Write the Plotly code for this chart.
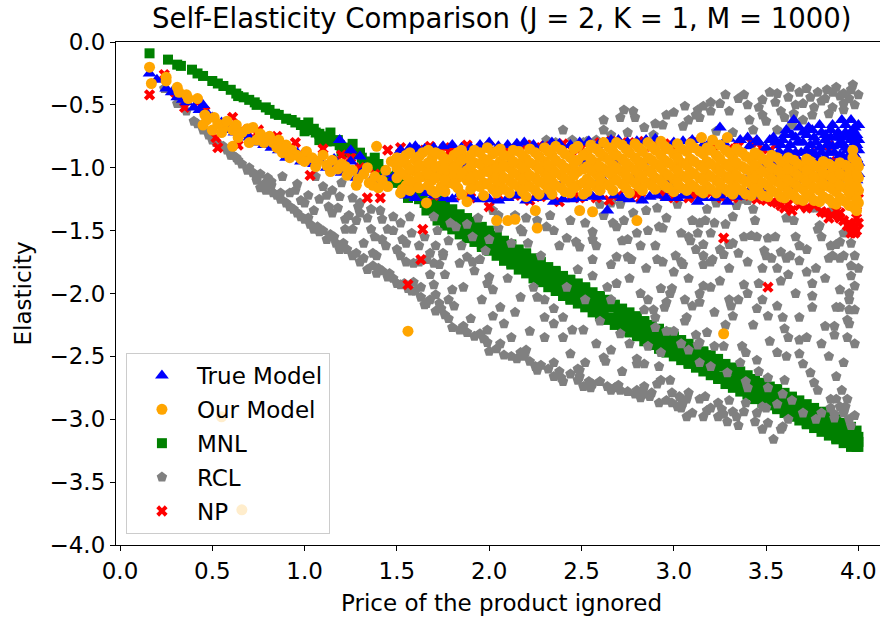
import plotly.graph_objects as go

# ---------------- data ----------------
mnl_pts = [
    (0.16, -0.09), (0.26, -0.14), (0.31, -0.18), (0.33, -0.19), (0.39, -0.22), (0.42, -0.25),
    (0.45, -0.27), (0.50, -0.31), (0.53, -0.33), (0.56, -0.35), (0.60, -0.38), (0.63, -0.41),
    (0.64, -0.43), (0.67, -0.44), (0.70, -0.46), (0.73, -0.48), (0.74, -0.50), (0.79, -0.52),
    (0.81, -0.54), (0.84, -0.57), (0.86, -0.58), (0.90, -0.61), (0.93, -0.62), (0.95, -0.64),
    (0.98, -0.66), (1.01, -0.68), (1.03, -0.70), (1.06, -0.72), (1.08, -0.73), (1.10, -0.75),
    (1.13, -0.77), (1.16, -0.79), (1.19, -0.82), (1.22, -0.84), (1.25, -0.86), (1.28, -0.89),
    (1.31, -0.92), (1.35, -0.95), (1.38, -0.98), (1.42, -1.02), (1.46, -1.07), (1.50, -1.12),
    (1.53, -1.16), (1.56, -1.19), (1.59, -1.22), (1.62, -1.25), (1.65, -1.28), (1.68, -1.31),
    (1.00, -0.71), (1.05, -0.69), (1.12, -0.79), (1.18, -0.78), (1.24, -0.88), (1.30, -0.88),
    (1.36, -0.99), (1.40, -0.97), (1.46, -1.10), (1.52, -1.12), (1.58, -1.17), (1.64, -1.24),
    (1.70, -1.29), (1.70, -1.36), (1.74, -1.33), (1.74, -1.39), (1.78, -1.36), (1.78, -1.43),
    (1.82, -1.40), (1.82, -1.46), (1.86, -1.43), (1.86, -1.50), (1.90, -1.46), (1.90, -1.53),
    (1.94, -1.50), (1.94, -1.57), (1.98, -1.53), (1.98, -1.60), (2.02, -1.57), (2.02, -1.64),
    (2.06, -1.61), (2.06, -1.68), (2.10, -1.64), (2.10, -1.71), (2.14, -1.68), (2.14, -1.75),
    (2.18, -1.71), (2.18, -1.78), (2.22, -1.75), (2.22, -1.82), (2.26, -1.78), (2.26, -1.85),
    (2.30, -1.82), (2.30, -1.89), (2.34, -1.85), (2.34, -1.92), (2.38, -1.89), (2.38, -1.95),
    (2.42, -1.92), (2.42, -1.99), (2.46, -1.95), (2.46, -2.02), (2.50, -1.98), (2.50, -2.05),
    (2.54, -2.02), (2.54, -2.09), (2.58, -2.05), (2.58, -2.12), (2.62, -2.08), (2.62, -2.15),
    (2.66, -2.11), (2.66, -2.19), (2.70, -2.15), (2.70, -2.22), (2.74, -2.18), (2.74, -2.25),
    (2.78, -2.21), (2.78, -2.28), (2.82, -2.24), (2.82, -2.31), (2.86, -2.28), (2.86, -2.35),
    (2.90, -2.31), (2.90, -2.38), (2.94, -2.34), (2.94, -2.41), (2.98, -2.37), (2.98, -2.44),
    (3.02, -2.40), (3.02, -2.47), (3.06, -2.43), (3.06, -2.50), (3.10, -2.46), (3.10, -2.53),
    (3.14, -2.49), (3.14, -2.56), (3.18, -2.52), (3.18, -2.59), (3.22, -2.55), (3.22, -2.62),
    (3.26, -2.58), (3.26, -2.66), (3.30, -2.61), (3.30, -2.69), (3.34, -2.65), (3.34, -2.72),
    (3.38, -2.68), (3.38, -2.75), (3.42, -2.71), (3.42, -2.78), (3.46, -2.74), (3.46, -2.81),
    (3.50, -2.77), (3.50, -2.83), (3.54, -2.79), (3.54, -2.86), (3.58, -2.82), (3.58, -2.89),
    (3.62, -2.85), (3.62, -2.92), (3.66, -2.88), (3.66, -2.95), (3.70, -2.91), (3.70, -2.98),
    (3.74, -2.94), (3.74, -3.01), (3.78, -2.97), (3.78, -3.04), (3.82, -3.00), (3.82, -3.07),
    (3.86, -3.03), (3.86, -3.10), (3.90, -3.06), (3.90, -3.13), (3.94, -3.09), (3.94, -3.16),
    (3.98, -3.12), (3.98, -3.19), (4.00, -3.14), (4.00, -3.18),
    (1.72, -1.28), (1.80, -1.46), (1.88, -1.41), (1.96, -1.61), (2.04, -1.55), (2.12, -1.76),
    (2.20, -1.69), (2.28, -1.90), (2.36, -1.83), (2.44, -2.04), (2.52, -1.96), (2.60, -2.17),
    (2.68, -2.09), (2.76, -2.30), (2.84, -2.22), (2.92, -2.43), (3.00, -2.35), (3.08, -2.55),
    (3.16, -2.47), (3.24, -2.67), (3.32, -2.59), (3.40, -2.80), (3.48, -2.72), (3.56, -2.91),
    (3.64, -2.83), (3.72, -3.03), (3.80, -2.95), (3.88, -3.15), (3.96, -3.07), (4.00, -3.22),
    # upper edge of the band
    (1.72, -1.26), (1.76, -1.30), (1.80, -1.33), (1.84, -1.37), (1.88, -1.40), (1.92, -1.43),
    (1.96, -1.47), (2.00, -1.50), (2.04, -1.54), (2.08, -1.58), (2.12, -1.61), (2.16, -1.65),
    (2.20, -1.68), (2.24, -1.72), (2.28, -1.75), (2.32, -1.79), (2.36, -1.82), (2.40, -1.86),
    (2.44, -1.89), (2.48, -1.92), (2.52, -1.95), (2.56, -1.99), (2.60, -2.02), (2.64, -2.05),
    (2.68, -2.09), (2.72, -2.12), (2.76, -2.15), (2.80, -2.18), (2.84, -2.22), (2.88, -2.25),
    (2.92, -2.28), (2.96, -2.31), (3.00, -2.34), (3.04, -2.37), (3.08, -2.40), (3.12, -2.43),
    (3.16, -2.46), (3.20, -2.49), (3.24, -2.52), (3.28, -2.56), (3.32, -2.59), (3.36, -2.62),
    (3.40, -2.65), (3.44, -2.68), (3.48, -2.71), (3.52, -2.74), (3.56, -2.76), (3.60, -2.79),
    (3.64, -2.82), (3.68, -2.85), (3.72, -2.88), (3.76, -2.91), (3.80, -2.94), (3.84, -2.97),
    (3.88, -3.00), (3.92, -3.03), (3.96, -3.06), (3.99, -3.09),
    # lower edge of the band
    (1.72, -1.42), (1.76, -1.46), (1.80, -1.49), (1.84, -1.53), (1.88, -1.56), (1.92, -1.59),
    (1.96, -1.63), (2.00, -1.66), (2.04, -1.70), (2.08, -1.74), (2.12, -1.77), (2.16, -1.81),
    (2.20, -1.84), (2.24, -1.88), (2.28, -1.91), (2.32, -1.95), (2.36, -1.98), (2.40, -2.02),
    (2.44, -2.05), (2.48, -2.08), (2.52, -2.11), (2.56, -2.15), (2.60, -2.18), (2.64, -2.21),
    (2.68, -2.25), (2.72, -2.28), (2.76, -2.31), (2.80, -2.34), (2.84, -2.38), (2.88, -2.41),
    (2.92, -2.44), (2.96, -2.47), (3.00, -2.50), (3.04, -2.53), (3.08, -2.56), (3.12, -2.59),
    (3.16, -2.62), (3.20, -2.65), (3.24, -2.68), (3.28, -2.72), (3.32, -2.75), (3.36, -2.78),
    (3.40, -2.81), (3.44, -2.84), (3.48, -2.87), (3.52, -2.89), (3.56, -2.92), (3.60, -2.95),
    (3.64, -2.98), (3.68, -3.01), (3.72, -3.04), (3.76, -3.07), (3.80, -3.10), (3.84, -3.13),
    (3.88, -3.16), (3.92, -3.19), (3.96, -3.22), (3.99, -3.22),
    (1.02, -0.64), (1.14, -0.72), (1.26, -0.81), (1.38, -0.92), (1.50, -1.06), (1.62, -1.19),
    (1.08, -0.78), (1.20, -0.87), (1.32, -0.97), (1.44, -1.08), (1.56, -1.24), (1.66, -1.34),
]

rcl_pts = [
    (0.24, -0.37), (0.31, -0.49), (0.34, -0.49), (0.36, -0.55), (0.40, -0.63), (0.42, -0.65),
    (0.45, -0.70), (0.50, -0.78), (0.55, -0.83), (0.56, -0.83), (0.60, -0.90), (0.61, -0.90),
    (0.63, -0.92), (0.66, -0.97), (0.69, -1.02), (0.72, -1.04), (0.74, -1.08), (0.74, -1.10),
    (0.76, -1.16), (0.78, -1.13), (0.79, -1.18), (0.80, -1.08), (0.82, -1.11), (0.83, -1.20),
    (0.87, -1.25), (0.87, -1.20), (0.88, -1.07), (0.90, -1.28), (0.92, -1.31), (0.92, -1.20),
    (0.96, -1.36), (0.96, -1.13), (0.98, -1.39), (0.98, -1.26), (1.00, -1.41), (1.00, -1.28),
    (1.03, -1.45), (1.05, -1.49), (1.05, -1.34), (1.06, -1.07), (1.08, -1.51), (1.10, -1.50),
    (1.10, -1.15), (1.12, -1.57), (1.13, -1.31), (1.14, -1.53), (1.15, -1.18), (1.15, -1.36),
    (1.17, -1.60), (1.19, -1.65), (1.19, -1.23), (1.20, -1.12), (1.22, -1.41), (1.22, -1.49),
    (1.23, -1.65), (1.26, -1.70), (1.26, -1.24), (1.26, -1.49), (1.29, -1.31), (1.30, -1.75),
    (1.30, -1.28), (1.30, -1.36), (1.32, -1.60), (1.34, -1.81), (1.36, -1.33), (1.36, -1.49),
    (1.37, -1.78), (1.37, -1.68), (1.39, -1.84), (1.39, -1.70), (1.41, -1.34), (1.42, -1.41),
    (1.42, -1.57), (1.42, -1.82), (1.45, -1.87), (1.45, -1.49), (1.46, -1.84), (1.48, -1.39),
    (1.50, -1.92), (1.52, -1.93), (1.52, -1.44), (1.52, -1.70), (1.53, -1.57), (1.55, -1.60),
    (1.56, -1.96), (1.57, -1.39), (1.59, -1.76), (1.59, -1.91), (1.60, -1.98), (1.62, -1.75),
    (1.63, -2.03), (1.63, -1.95), (1.65, -2.09), (1.66, -2.08), (1.66, -1.73), (1.70, -1.39),
    (1.70, -1.76), (1.70, -1.93), (1.71, -2.14), (1.71, -2.01), (1.71, -1.62), (1.73, -1.77),
    (1.73, -2.08), (1.75, -1.68), (1.75, -1.70), (1.76, -2.17), (1.79, -1.44), (1.80, -2.27),
    (1.80, -1.97), (1.81, -2.10), (1.82, -1.47), (1.84, -1.76), (1.84, -2.29), (1.88, -2.31),
    (1.88, -1.71), (1.91, -1.55), (1.91, -1.75), (1.95, -2.32), (1.95, -1.73), (1.99, -2.39),
    (1.99, -1.92), (1.99, -2.29), (2.00, -2.46), (2.00, -1.57), (2.00, -1.87), (2.02, -1.34),
    (2.05, -1.38), (2.06, -2.40), (2.06, -2.11), (2.08, -2.49), (2.08, -2.24), (2.14, -1.38),
    (2.15, -2.52), (2.17, -2.47), (2.17, -2.03), (2.17, -1.49), (2.18, -1.51), (2.20, -2.45),
    (2.21, -1.60), (2.22, -2.54), (2.26, -2.03), (2.26, -1.42), (2.26, -2.61), (2.28, -2.57),
    (2.30, -2.19), (2.31, -1.47), (2.31, -0.78), (2.35, -2.55), (2.35, -2.66), (2.35, -1.50),
    (2.35, -2.12), (2.35, -2.24), (2.39, -2.67), (2.40, -2.70), (2.40, -2.19), (2.40, -0.70),
    (2.42, -1.56), (2.45, -2.29), (2.47, -1.59), (2.48, -1.81), (2.48, -2.69), (2.48, -2.60),
    (2.49, -1.63), (2.49, -2.61), (2.49, -2.66), (2.51, -2.29), (2.51, -2.74), (2.51, -0.80),
    (2.53, -0.79), (2.55, -2.75), (2.56, -1.51), (2.56, -1.57), (2.56, -1.73), (2.56, -1.86),
    (2.56, -2.72), (2.60, -1.29), (2.62, -2.51), (2.63, -2.54), (2.64, -2.74), (2.64, -1.95),
    (2.66, -1.77), (2.66, -1.28), (2.66, -2.77), (2.66, -0.74), (2.67, -1.44), (2.69, -1.47),
    (2.69, -1.71), (2.69, -1.92), (2.70, -2.73), (2.71, -2.77), (2.71, -2.32), (2.71, -1.29),
    (2.71, -0.60), (2.73, -1.42), (2.73, -0.54), (2.75, -1.71), (2.75, -1.57), (2.77, -1.73),
    (2.79, -0.60), (2.79, -2.80), (2.80, -1.52), (2.80, -2.52), (2.80, -2.56), (2.80, -2.77),
    (2.82, -1.62), (2.82, -2.00), (2.82, -2.83), (2.84, -2.56), (2.84, -2.13), (2.84, -2.74),
    (2.85, -1.34), (2.86, -2.05), (2.87, -2.82), (2.88, -2.79), (2.89, -2.13), (2.89, -0.74),
    (2.90, -2.19), (2.90, -2.27), (2.91, -1.32), (2.91, -1.73), (2.91, -2.72), (2.92, -1.47),
    (2.92, -2.87), (2.93, -1.18), (2.93, -1.96), (2.93, -2.47), (2.93, -2.69), (2.94, -1.48),
    (2.94, -1.75), (2.94, -0.66), (2.95, -2.11), (2.96, -0.58), (2.96, -2.07), (2.98, -2.69),
    (2.99, -1.96), (2.99, -2.79), (2.99, -2.87), (3.00, -1.14), (3.00, -1.83), (3.00, -2.30),
    (3.01, -1.70), (3.02, -1.29), (3.03, -2.82), (3.04, -1.75), (3.04, -2.91), (3.05, -1.77),
    (3.05, -2.87), (3.05, -0.67), (3.06, -2.22), (3.06, -0.51), (3.07, -2.19), (3.07, -2.84),
    (3.07, -2.98), (3.08, -1.55), (3.08, -1.88), (3.08, -2.45), (3.08, -2.79), (3.09, -1.58),
    (3.10, -1.42), (3.12, -2.33), (3.13, -1.52), (3.13, -2.41), (3.13, -0.54), (3.14, -2.07),
    (3.14, -2.39), (3.14, -2.55), (3.14, -2.84), (3.14, -2.00), (3.14, -1.44), (3.14, -0.60),
    (3.16, -1.61), (3.16, -1.70), (3.16, -1.77), (3.16, -1.94), (3.16, -2.98), (3.16, -0.51),
    (3.17, -1.42), (3.17, -2.82), (3.18, -1.33), (3.18, -2.31), (3.18, -2.93), (3.20, -2.58),
    (3.20, -1.75), (3.20, -2.91), (3.20, -0.55), (3.21, -1.73), (3.22, -1.44), (3.22, -2.42),
    (3.23, -1.28), (3.23, -0.71), (3.24, -2.87), (3.24, -2.98), (3.25, -1.65), (3.25, -1.90),
    (3.25, -0.49), (3.27, -1.69), (3.27, -2.42), (3.27, -2.96), (3.29, -2.63), (3.29, -3.02),
    (3.30, -1.61), (3.30, -2.05), (3.30, -2.85), (3.31, -2.10), (3.32, -1.39), (3.32, -1.60),
    (3.32, -2.18), (3.32, -2.94), (3.32, -0.72), (3.34, -1.30), (3.35, -2.05), (3.35, -3.05),
    (3.37, -1.25), (3.37, -2.42), (3.38, -1.55), (3.38, -1.93), (3.38, -2.94), (3.38, -0.42),
    (3.39, -2.47), (3.39, -2.70), (3.39, -2.87), (3.40, -1.26), (3.40, -2.00), (3.40, -2.75),
    (3.41, -0.62), (3.42, -1.54), (3.43, -1.33), (3.43, -2.25), (3.43, -0.70), (3.45, -1.55),
    (3.45, -2.53), (3.45, -2.95), (3.48, -2.05), (3.48, -2.90), (3.48, -0.46), (3.49, -1.66),
    (3.50, -1.70), (3.50, -2.91), (3.50, -0.63), (3.51, -1.56), (3.51, -2.18), (3.51, -2.67),
    (3.51, -2.75), (3.51, -3.03), (3.53, -1.72), (3.54, -3.16), (3.56, -2.47), (3.56, -2.88),
    (3.56, -0.41), (3.56, -0.70), (3.58, -1.67), (3.58, -3.08), (3.59, -2.19), (3.59, -2.80),
    (3.59, -3.06), (3.60, -2.69), (3.61, -1.40), (3.61, -1.72), (3.61, -2.50), (3.62, -1.85),
    (3.62, -2.35), (3.63, -1.70), (3.63, -0.36), (3.64, -2.85), (3.65, -1.42), (3.65, -0.57),
    (3.68, -1.62), (3.68, -1.74), (3.68, -2.19), (3.68, -2.37), (3.68, -2.48), (3.70, -2.56),
    (3.70, -0.49), (3.72, -1.83), (3.72, -0.37), (3.74, -1.32), (3.74, -2.63), (3.75, -2.02),
    (3.75, -2.11), (3.75, -0.58), (3.76, -2.71), (3.77, -1.32), (3.77, -1.80), (3.77, -3.00),
    (3.78, -1.49), (3.78, -2.77), (3.79, -1.46), (3.80, -0.47), (3.82, -1.88), (3.82, -2.26),
    (3.83, -0.38), (3.84, -1.72), (3.84, -0.57), (3.85, -1.35), (3.85, -2.84), (3.85, -2.91),
    (3.86, -1.70), (3.87, -2.26), (3.87, -2.33), (3.87, -2.96), (3.87, -2.99), (3.88, -1.61),
    (3.88, -2.11), (3.88, -2.66), (3.88, -2.84), (3.90, -1.59), (3.90, -1.72), (3.90, -1.97),
    (3.90, -2.11), (3.90, -2.90), (3.90, -0.43), (3.91, -2.77), (3.92, -1.70), (3.92, -0.49),
    (3.92, -0.41), (3.93, -2.90), (3.94, -2.21), (3.94, -2.35), (3.94, -2.84), (3.95, -2.00),
    (3.95, -2.05), (3.95, -2.13), (3.95, -2.24), (3.95, -3.00), (3.96, -1.86), (3.97, -0.34),
    (3.98, -1.94), (3.98, -2.13), (3.98, -2.97),
    (3.55, -0.48), (3.58, -0.55), (3.62, -0.44), (3.66, -0.50), (3.68, -0.40), (3.74, -0.44),
    (3.76, -0.52), (3.78, -0.40), (3.82, -0.45), (3.86, -0.40), (3.86, -0.52), (3.88, -0.36),
    (3.92, -0.54), (3.95, -0.45), (3.96, -0.38), (3.98, -0.50), (4.00, -0.42), (3.46, -0.52),
    (3.52, -0.40), (3.40, -0.50), (3.35, -0.45), (3.30, -0.55), (3.28, -0.42), (3.20, -0.48),
    (3.12, -0.58), (3.08, -0.62), (3.00, -0.56), (2.90, -0.65), (2.84, -0.68), (2.78, -0.55),
    (2.75, -0.72), (2.62, -0.70), (2.58, -0.78), (2.45, -0.78), (2.36, -0.80), (2.22, -0.82),
    (2.62, -0.62), (3.48, -0.58), (3.60, -0.60), (3.70, -0.62), (3.64, -0.66),
    (2.05, -1.48), (2.12, -1.60), (2.20, -1.40), (2.28, -1.70), (2.33, -1.38), (2.38, -1.62),
    (2.44, -1.42), (2.52, -1.44), (2.58, -1.62), (2.62, -1.38), (2.72, -1.58), (2.78, -1.36),
    (2.86, -1.50), (2.90, -1.62), (2.96, -1.40), (3.04, -1.52), (3.12, -1.65), (3.20, -1.52),
    (3.28, -1.45), (3.35, -1.68), (3.44, -1.42), (3.48, -1.80), (3.55, -1.55), (3.58, -1.90),
    (3.66, -1.55), (3.72, -1.65), (3.80, -1.55), (3.85, -1.62), (3.92, -1.52), (3.96, -1.60),
    (3.98, -1.70), (4.00, -1.80), (3.96, -1.78), (3.75, -1.92), (3.66, -2.00), (3.56, -2.10),
    (3.45, -2.12), (3.60, -2.28), (3.80, -2.40), (3.98, -2.40), (3.92, -2.55), (3.84, -2.50),
    (3.72, -2.35), (3.52, -2.38), (3.46, -2.62), (3.36, -2.55), (3.28, -2.25), (3.22, -2.15),
    (3.10, -2.10), (3.04, -2.40), (2.96, -2.30), (2.92, -2.58), (2.86, -2.42), (2.76, -2.40),
    (2.72, -2.62), (2.66, -2.45), (2.58, -2.40), (2.52, -2.55), (2.44, -2.48), (2.40, -2.35),
    (2.30, -2.35), (2.22, -2.30), (2.12, -2.35), (2.02, -2.18), (1.96, -2.05), (1.90, -2.20),
    (1.86, -1.95), (1.78, -2.05), (1.76, -1.85), (1.68, -1.85), (1.92, -1.82), (2.02, -1.97),
    (2.10, -1.88), (2.14, -2.15), (2.24, -1.95), (2.30, -2.05), (2.42, -1.95), (2.52, -2.05),
    (2.60, -2.22), (2.66, -2.05), (2.76, -1.88), (2.85, -1.80), (2.98, -2.00), (3.06, -2.05),
    (3.20, -1.95), (3.30, -1.80), (3.40, -1.75), (3.46, -1.92), (3.56, -1.80),
    (0.48, -0.74), (0.52, -0.80), (0.58, -0.86), (0.64, -0.94), (0.70, -1.00), (0.76, -1.05),
    (0.82, -1.14), (0.85, -1.22), (0.94, -1.33), (1.02, -1.40), (1.07, -1.47), (1.16, -1.55),
    (1.21, -1.60), (1.28, -1.68), (1.32, -1.72), (1.40, -1.80), (1.48, -1.88), (1.54, -1.92),
    (1.58, -1.98), (1.68, -2.05), (1.74, -2.12), (1.78, -2.20), (1.86, -2.26), (1.92, -2.34),
    (1.97, -2.36), (2.04, -2.44), (2.12, -2.50), (2.19, -2.50), (2.25, -2.58), (2.32, -2.60),
    (2.38, -2.62), (2.44, -2.64), (2.54, -2.70), (2.60, -2.70), (2.68, -2.75), (2.75, -2.78),
    (2.84, -2.80), (2.96, -2.85), (3.02, -2.90), (3.10, -2.95), (3.26, -2.92), (3.34, -2.98),
    (3.44, -3.02), (3.48, -3.08), (3.62, -3.00), (3.70, -2.95), (3.80, -2.95), (3.92, -2.95),
    (3.96, -3.05),
    (0.95, -1.18), (1.02, -1.22), (1.08, -1.25), (1.12, -1.22), (1.18, -1.32), (1.24, -1.38),
    (1.28, -1.42), (1.34, -1.40), (1.38, -1.55), (1.44, -1.62), (1.48, -1.50), (1.50, -1.65),
    (1.55, -1.75), (1.58, -1.52), (1.62, -1.62), (1.65, -1.55), (1.68, -1.68), (1.72, -1.50),
    (1.78, -1.58), (1.85, -1.62), (1.88, -1.45), (1.94, -1.40), (1.98, -1.66),
]

ours_pts = [
    (0.16, -0.20), (0.17, -0.33), (0.25, -0.28), (0.25, -0.31), (0.31, -0.36), (0.32, -0.40),
    (0.36, -0.42), (0.37, -0.45), (0.42, -0.45), (0.45, -0.66), (0.46, -0.58), (0.50, -0.70),
    (0.51, -0.60), (0.53, -0.65), (0.56, -0.68), (0.58, -0.63), (0.61, -0.70), (0.61, -0.83),
    (0.63, -0.66), (0.66, -0.72), (0.69, -0.69), (0.72, -0.68), (0.74, -0.78), (0.76, -0.73),
    (0.80, -0.76), (0.81, -0.75), (0.83, -0.80), (0.85, -0.84), (0.88, -0.88), (0.90, -0.82),
    (0.93, -0.86), (0.96, -0.90), (0.98, -0.93), (1.01, -0.87), (1.04, -0.92), (1.07, -0.95),
    (1.10, -0.90), (1.12, -0.98), (1.15, -0.94), (1.18, -1.01), (1.20, -0.97), (1.23, -1.06),
    (1.26, -1.02), (1.29, -1.09), (1.32, -1.05), (1.35, -1.12), (1.37, -1.14), (1.38, -1.07),
    (1.39, -0.83), (1.42, -1.10), (1.45, -1.15), (1.47, -0.95), (1.52, -1.20), (1.53, -1.17),
    (0.47, -0.62), (0.55, -0.72), (0.64, -0.76), (0.70, -0.80), (0.78, -0.80), (0.86, -0.78),
    (0.92, -0.92), (1.00, -0.95), (1.06, -0.99), (1.14, -1.03), (1.22, -0.99), (1.28, -1.14),
    (1.34, -1.00), (1.40, -1.16), (1.44, -1.02),
    (1.50, -0.92), (1.50, -1.00), (1.50, -1.08), (1.55, -0.90), (1.55, -0.97), (1.55, -1.06),
    (1.55, -1.14), (1.60, -0.94), (1.60, -1.03), (1.60, -1.12), (1.64, -0.88), (1.64, -0.99),
    (1.64, -1.07), (1.66, -1.28), (1.69, -0.93), (1.69, -1.01), (1.69, -1.10), (1.69, -1.18),
    (1.74, -0.90), (1.74, -0.98), (1.74, -1.05), (1.74, -1.15), (1.78, -0.95), (1.78, -1.04),
    (1.78, -1.12), (1.83, -0.88), (1.83, -0.97), (1.83, -1.08), (1.83, -1.16), (1.88, -0.92),
    (1.88, -1.02), (1.88, -1.10), (1.88, -1.27), (1.92, -0.86), (1.92, -0.96), (1.92, -1.05),
    (1.92, -1.13), (1.97, -0.93), (1.97, -1.01), (1.97, -1.12), (1.97, -1.22), (2.02, -0.89),
    (2.02, -0.98), (2.02, -1.07), (2.02, -1.17), (2.04, -1.42), (2.06, -0.85), (2.06, -0.95),
    (2.06, -1.04), (2.06, -1.14), (2.10, -1.42), (2.11, -0.91), (2.11, -1.00), (2.11, -1.10),
    (2.11, -1.20), (2.14, -1.41), (2.16, -0.87), (2.16, -0.97), (2.16, -1.06), (2.16, -1.15),
    (2.20, -0.93), (2.20, -1.03), (2.20, -1.12), (2.20, -1.23), (2.25, -0.88), (2.25, -0.98),
    (2.25, -1.08), (2.25, -1.18), (2.25, -1.34), (2.26, -1.48), (2.30, -0.84), (2.30, -0.95),
    (2.30, -1.04), (2.30, -1.13), (2.34, -0.90), (2.34, -1.01), (2.34, -1.11), (2.34, -1.21),
    (2.39, -0.86), (2.39, -0.97), (2.39, -1.06), (2.39, -1.16), (2.44, -0.92), (2.44, -1.02),
    (2.44, -1.12), (2.44, -1.20), (2.48, -0.83), (2.48, -0.94), (2.48, -1.03), (2.48, -1.14),
    (2.49, -1.34), (2.53, -0.88), (2.53, -0.99), (2.53, -1.09), (2.53, -1.19), (2.56, -1.35),
    (2.58, -0.85), (2.58, -0.96), (2.58, -1.05), (2.58, -1.15), (2.62, -0.80), (2.62, -0.91),
    (2.62, -1.01), (2.62, -1.12), (2.67, -0.87), (2.67, -0.98), (2.67, -1.07), (2.67, -1.18),
    (2.72, -0.82), (2.72, -0.93), (2.72, -1.03), (2.72, -1.13), (2.76, -0.88), (2.76, -0.99),
    (2.76, -1.09), (2.76, -1.20), (2.80, -1.42), (2.81, -0.84), (2.81, -0.95), (2.81, -1.05),
    (2.81, -1.15), (2.86, -0.80), (2.86, -0.92), (2.86, -1.02), (2.86, -1.12), (2.90, -0.86),
    (2.90, -0.97), (2.90, -1.08), (2.90, -1.17), (2.95, -0.83), (2.95, -0.94), (2.95, -1.04),
    (2.95, -1.14), (3.00, -0.89), (3.00, -0.99), (3.00, -1.09), (3.00, -1.19), (3.04, -0.85),
    (3.04, -0.96), (3.04, -1.06), (3.04, -1.16), (3.09, -0.81), (3.09, -0.93), (3.09, -1.03),
    (3.09, -1.13), (3.14, -0.87), (3.14, -0.98), (3.14, -1.08), (3.14, -1.18), (3.15, -0.76),
    (3.18, -0.84), (3.18, -0.95), (3.18, -1.05), (3.18, -1.15), (3.21, -0.78), (3.23, -0.90),
    (3.23, -1.00), (3.23, -1.10), (3.23, -1.20), (3.27, -2.32), (3.28, -0.86), (3.28, -0.97),
    (3.28, -1.07), (3.28, -1.17), (3.29, -0.76), (3.32, -0.92), (3.32, -1.02), (3.32, -1.12),
    (3.32, -1.21), (3.37, -0.88), (3.37, -0.99), (3.37, -1.09), (3.37, -1.18), (3.42, -0.94),
    (3.42, -1.04), (3.42, -1.13), (3.42, -1.22), (3.46, -0.90), (3.46, -1.01), (3.46, -1.10),
    (3.46, -1.19), (3.51, -0.96), (3.51, -1.05), (3.51, -1.14), (3.51, -1.23), (3.56, -0.92),
    (3.56, -1.02), (3.56, -1.11), (3.56, -1.20), (3.60, -0.97), (3.60, -1.06), (3.60, -1.15),
    (3.60, -1.24), (3.65, -0.94), (3.65, -1.03), (3.65, -1.12), (3.65, -1.22), (3.70, -0.99),
    (3.70, -1.08), (3.70, -1.17), (3.70, -1.26), (3.74, -0.95), (3.74, -1.04), (3.74, -1.13),
    (3.74, -1.23), (3.79, -1.00), (3.79, -1.09), (3.79, -1.18), (3.79, -1.27), (3.84, -0.97),
    (3.84, -1.06), (3.84, -1.15), (3.84, -1.25), (3.88, -1.01), (3.88, -1.10), (3.88, -1.19),
    (3.88, -1.29), (3.93, -0.98), (3.93, -1.07), (3.93, -1.16), (3.93, -1.27), (3.97, -0.86),
    (3.97, -0.92), (3.97, -1.03), (3.97, -1.13), (3.97, -1.22), (3.97, -1.31), (4.00, -0.99),
    (4.00, -1.08), (4.00, -1.18), (4.00, -1.28), (1.56, -2.30), (0.55, -2.98), (0.66, -3.72),
    (1.52, -0.95), (1.52, -1.04), (1.57, -0.88), (1.57, -1.01), (1.57, -1.10), (1.57, -1.18),
    (1.62, -0.91), (1.62, -0.98), (1.62, -1.08), (1.62, -1.16), (1.67, -0.86), (1.67, -0.96),
    (1.67, -1.05), (1.67, -1.14), (1.71, -0.88), (1.71, -0.99), (1.71, -1.08), (1.71, -1.20),
    (1.76, -0.93), (1.76, -1.01), (1.76, -1.10), (1.76, -1.19), (1.81, -0.90), (1.81, -1.00),
    (1.81, -1.06), (1.81, -1.13), (1.85, -0.86), (1.85, -0.94), (1.85, -1.04), (1.85, -1.21),
    (1.90, -0.90), (1.90, -0.99), (1.90, -1.08), (1.90, -1.17), (1.95, -0.88), (1.95, -0.97),
    (1.95, -1.06), (1.95, -1.15), (1.99, -0.84), (1.99, -0.94), (1.99, -1.03), (1.99, -1.13),
    (2.04, -0.87), (2.04, -1.00), (2.04, -1.10), (2.04, -1.20), (2.08, -0.90), (2.08, -0.98),
    (2.08, -1.08), (2.08, -1.17), (2.13, -0.86), (2.13, -0.95), (2.13, -1.04), (2.13, -1.13),
    (2.18, -0.90), (2.18, -1.00), (2.18, -1.09), (2.18, -1.19), (2.22, -0.85), (2.22, -0.96),
    (2.22, -1.06), (2.22, -1.15), (2.27, -0.91), (2.27, -1.01), (2.27, -1.11), (2.27, -1.21),
    (2.32, -0.87), (2.32, -0.98), (2.32, -1.08), (2.32, -1.17), (2.36, -0.83), (2.36, -0.94),
    (2.36, -1.04), (2.36, -1.14), (2.41, -0.89), (2.41, -1.00), (2.41, -1.09), (2.41, -1.19),
    (2.46, -0.85), (2.46, -0.96), (2.46, -1.06), (2.46, -1.16), (2.51, -0.90), (2.51, -1.01),
    (2.51, -1.12), (2.51, -1.21), (2.55, -0.82), (2.55, -0.93), (2.55, -1.02), (2.55, -1.12),
    (2.60, -0.88), (2.60, -0.99), (2.60, -1.08), (2.60, -1.18), (2.65, -0.84), (2.65, -0.94),
    (2.65, -1.04), (2.65, -1.14), (2.69, -0.80), (2.69, -0.90), (2.69, -1.00), (2.69, -1.10),
    (2.74, -0.85), (2.74, -0.96), (2.74, -1.06), (2.74, -1.16), (2.79, -0.81), (2.79, -0.92),
    (2.79, -1.02), (2.79, -1.12), (2.83, -0.87), (2.83, -0.98), (2.83, -1.08), (2.83, -1.18),
    (2.88, -0.83), (2.88, -0.94), (2.88, -1.04), (2.88, -1.14), (2.93, -0.79), (2.93, -0.90),
    (2.93, -1.00), (2.93, -1.10), (2.97, -0.85), (2.97, -0.96), (2.97, -1.06), (2.97, -1.16),
    (3.02, -0.81), (3.02, -0.92), (3.02, -1.02), (3.02, -1.12), (3.07, -0.87), (3.07, -0.98),
    (3.07, -1.08), (3.07, -1.18), (3.11, -0.84), (3.11, -0.95), (3.11, -1.05), (3.11, -1.15),
    (3.16, -0.89), (3.16, -1.00), (3.16, -1.10), (3.16, -1.20), (3.20, -0.86), (3.20, -0.97),
    (3.20, -1.07), (3.20, -1.17), (3.25, -0.82), (3.25, -0.93), (3.25, -1.03), (3.25, -1.13),
    (3.30, -0.88), (3.30, -0.99), (3.30, -1.09), (3.30, -1.19), (3.34, -0.85), (3.34, -0.96),
    (3.34, -1.06), (3.34, -1.16), (3.39, -0.91), (3.39, -1.01), (3.39, -1.11), (3.39, -1.21),
    (3.44, -0.88), (3.44, -0.98), (3.44, -1.08), (3.44, -1.17), (3.48, -0.93), (3.48, -1.03),
    (3.48, -1.12), (3.48, -1.22), (3.53, -0.90), (3.53, -1.00), (3.53, -1.09), (3.53, -1.18),
    (3.58, -0.95), (3.58, -1.04), (3.58, -1.13), (3.58, -1.23), (3.62, -0.92), (3.62, -1.01),
    (3.62, -1.10), (3.62, -1.19), (3.67, -0.97), (3.67, -1.06), (3.67, -1.15), (3.67, -1.25),
    (3.72, -0.93), (3.72, -1.02), (3.72, -1.11), (3.72, -1.21), (3.76, -0.98), (3.76, -1.07),
    (3.76, -1.16), (3.76, -1.26), (3.81, -0.95), (3.81, -1.04), (3.81, -1.13), (3.81, -1.23),
    (3.86, -0.99), (3.86, -1.08), (3.86, -1.17), (3.86, -1.28), (3.90, -0.96), (3.90, -1.05),
    (3.90, -1.14), (3.90, -1.24), (3.95, -1.00), (3.95, -1.10), (3.95, -1.20), (3.95, -1.30),
    (3.99, -0.95), (3.99, -1.05), (3.99, -1.15), (3.99, -1.25), (3.99, -1.34),
]

true_pts = [
    (0.16, -0.25), (0.25, -0.37), (0.31, -0.44), (0.36, -0.48), (0.43, -0.54), (0.45, -0.50),
    (0.50, -0.60), (0.55, -0.64), (0.62, -0.72), (0.70, -0.76), (0.78, -0.82), (0.86, -0.86),
    (0.92, -0.90), (0.98, -0.95), (1.05, -0.97), (1.12, -1.00), (1.16, -0.93), (1.19, -0.78),
    (1.20, -1.04), (1.25, -0.86), (1.25, -0.95), (1.28, -1.08), (1.30, -0.91), (1.33, -1.00),
    (1.38, -1.12), (1.44, -1.05), (1.57, -0.84), (1.55, -1.22), (1.60, -1.14), (1.62, -0.86),
    (1.66, -1.20), (1.70, -0.84), (1.72, -1.02), (1.76, -1.24), (1.80, -0.82), (1.84, -1.21),
    (1.88, -0.98), (1.90, -0.84), (1.95, -1.25), (2.00, -0.80), (2.02, -1.08), (2.05, -1.26),
    (2.10, -0.82), (2.12, -0.95), (2.15, -1.22), (2.19, -0.80), (2.22, -1.07), (2.25, -1.24),
    (2.29, -0.83), (2.31, -0.96), (2.35, -1.27), (2.38, -0.81), (2.41, -1.10), (2.45, -1.25),
    (2.49, -0.80), (2.52, -0.96), (2.56, -1.23), (2.59, -0.82), (2.61, -1.08), (2.64, -1.34),
    (2.66, -0.78), (2.69, -0.95), (2.72, -1.24), (2.75, -0.80), (2.78, -1.07), (2.83, -1.26),
    (2.85, -0.78), (2.88, -0.95), (2.91, -1.22), (2.94, -0.80), (2.97, -1.10), (3.02, -1.24),
    (3.05, -0.79), (3.07, -1.22), (3.10, -0.96), (3.13, -1.27), (3.16, -0.82), (3.19, -1.08),
    (3.22, -1.24), (3.25, -0.68), (3.27, -0.80), (3.29, -1.27), (3.31, -0.95), (3.34, -1.21),
    (3.36, -0.78), (3.39, -1.10), (3.41, -0.83), (3.44, -1.22), (3.46, -0.80), (3.48, -0.95),
    (3.50, -1.18), (3.52, -0.78), (3.54, -0.76), (3.54, -0.90), (3.56, -1.10), (3.58, -0.82),
    (3.58, -0.96), (3.60, -0.74), (3.60, -1.05), (3.62, -0.86), (3.63, -1.15), (3.64, -0.74),
    (3.65, -0.62), (3.65, -0.95), (3.67, -0.80), (3.68, -1.02), (3.69, -0.88), (3.70, -0.72),
    (3.71, -1.10), (3.72, -0.93), (3.73, -0.68), (3.74, -0.82), (3.75, -1.00), (3.76, -0.76),
    (3.77, -0.90), (3.78, -1.08), (3.79, -0.84), (3.80, -0.72), (3.81, -0.96), (3.82, -0.78),
    (3.83, -1.05), (3.84, -0.88), (3.85, -0.70), (3.86, -0.83), (3.87, -0.98), (3.88, -0.76),
    (3.89, -1.10), (3.90, -0.90), (3.91, -0.62), (3.91, -0.80), (3.92, -1.02), (3.93, -0.72),
    (3.94, -0.86), (3.95, -0.95), (3.96, -0.78), (3.96, -1.08), (3.97, -0.75), (3.97, -0.88),
    (3.98, -1.00), (3.98, -0.68), (3.99, -0.82), (3.99, -0.93), (4.00, -0.78), (4.00, -1.05),
    (0.20, -0.30), (0.28, -0.40), (0.34, -0.46), (0.40, -0.52), (0.48, -0.58), (0.53, -0.66),
    (0.58, -0.70), (0.65, -0.74), (0.74, -0.80), (0.82, -0.84), (0.90, -0.92), (0.96, -0.88),
    (1.02, -0.96), (1.08, -0.94), (1.14, -0.98), (1.22, -1.00), (1.30, -1.05), (1.36, -1.10),
    (1.42, -1.12), (1.48, -1.08),
    (1.52, -0.86), (1.60, -0.83), (1.65, -0.85), (1.75, -0.83), (1.85, -0.84), (1.95, -0.82),
    (2.05, -0.83), (2.15, -0.81), (2.24, -0.82), (2.34, -0.80), (2.44, -0.82), (2.54, -0.79),
    (2.64, -0.80), (2.70, -0.78), (2.80, -0.79), (2.90, -0.77), (3.00, -0.80), (3.10, -0.78),
    (3.20, -0.79), (3.30, -0.77), (3.40, -0.76), (3.45, -0.78),
    (1.60, -1.24), (1.70, -1.22), (1.80, -1.25), (1.90, -1.23), (2.00, -1.25), (2.10, -1.24),
    (2.20, -1.26), (2.30, -1.23), (2.40, -1.25), (2.50, -1.24), (2.60, -1.23), (2.68, -1.22),
    (2.76, -1.25), (2.87, -1.23), (2.96, -1.24), (3.05, -1.22), (3.16, -1.24), (3.25, -1.22),
    (3.35, -1.23), (3.40, -1.20), (3.47, -1.18),
    (3.50, -0.84), (3.50, -0.98), (3.52, -0.92), (3.53, -1.05), (3.55, -0.80), (3.55, -0.95),
    (3.57, -0.87), (3.57, -1.08), (3.59, -0.78), (3.59, -1.00), (3.61, -0.90), (3.61, -0.70),
    (3.63, -0.82), (3.63, -0.98), (3.65, -1.06), (3.66, -0.76), (3.66, -0.88), (3.68, -0.95),
    (3.68, -0.68), (3.70, -0.80), (3.70, -1.04), (3.72, -0.86), (3.72, -0.74), (3.73, -0.97),
    (3.75, -0.70), (3.75, -0.88), (3.76, -1.08), (3.77, -0.80), (3.78, -0.95), (3.79, -0.66),
    (3.80, -0.88), (3.80, -1.02), (3.82, -0.74), (3.82, -0.92), (3.83, -0.82), (3.84, -1.10),
    (3.85, -0.76), (3.85, -0.96), (3.86, -0.66), (3.87, -0.88), (3.88, -1.04), (3.89, -0.72),
    (3.89, -0.82), (3.90, -0.98), (3.91, -0.76), (3.92, -0.92), (3.93, -0.66), (3.93, -0.84),
    (3.94, -1.06), (3.95, -0.74), (3.95, -0.90), (3.96, -0.62), (3.97, -0.98), (3.97, -0.70),
    (3.98, -0.80), (3.98, -0.90), (3.99, -0.74), (3.99, -1.10), (4.00, -0.66), (4.00, -0.86),
    (4.00, -0.96),
]

np_pts = [
    (0.16, -0.42), (0.24, -0.26), (0.35, -0.52), (0.52, -0.76), (0.53, -0.84), (0.61, -0.60),
    (0.64, -0.82), (0.75, -0.70), (0.85, -0.75), (0.95, -0.80), (1.03, -1.06), (1.10, -0.85),
    (1.20, -0.90), (1.25, -0.92), (1.34, -1.24), (1.41, -1.24), (1.45, -0.86), (1.56, -1.93),
    (1.62, -0.86), (1.63, -1.73), (1.64, -1.49), (1.70, -0.88), (1.79, -0.86), (1.85, -1.22),
    (1.95, -0.85), (2.00, -1.31), (2.08, -0.87), (2.14, -1.22), (2.22, -1.26), (2.25, -0.84),
    (2.32, -1.20), (2.38, -1.27), (2.45, -0.86), (2.49, -1.24), (2.55, -0.83), (2.60, -1.21),
    (2.66, -0.79), (2.70, -1.22), (2.76, -0.80), (2.82, -1.24), (2.88, -0.83), (2.95, -1.22),
    (3.02, -0.84), (3.08, -1.24), (3.15, -0.86), (3.20, -1.20), (3.26, -1.24), (3.27, -1.56),
    (3.30, -0.85), (3.38, -1.22), (3.45, -0.88), (3.51, -1.95), (3.54, -1.27), (3.56, -1.28),
    (3.58, -1.30), (3.60, -1.32), (3.62, -1.29), (3.64, -1.34), (3.66, -0.90), (3.70, -1.28),
    (3.74, -0.88), (3.80, -1.35), (3.84, -0.82), (3.86, -1.38), (3.88, -0.95), (3.90, -1.36),
    (3.92, -1.42), (3.95, -1.44), (3.96, -1.47), (3.97, -1.50), (3.98, -1.52), (3.99, -1.40),
    (3.99, -1.30), (4.00, -1.20),
    (1.52, -0.84), (1.58, -0.86), (1.68, -0.83), (1.76, -0.84), (1.88, -0.82), (2.00, -0.83),
    (2.12, -0.84), (2.20, -0.82), (2.30, -0.83), (2.40, -0.81), (2.50, -0.84), (2.60, -0.80),
    (2.72, -0.80), (2.84, -0.79), (2.98, -0.81), (3.10, -0.80), (3.22, -0.82), (3.35, -0.83),
    (3.42, -0.80), (3.48, -0.85), (3.55, -0.82),
    (1.55, -1.20), (1.70, -1.22), (1.90, -1.24), (2.05, -1.22), (2.28, -1.23), (2.45, -1.22),
    (2.58, -1.24), (2.65, -1.26), (2.80, -1.21), (3.00, -1.24), (3.12, -1.22), (3.32, -1.24),
    (3.45, -1.25), (3.50, -1.26),
    (3.68, -1.30), (3.72, -1.32), (3.76, -1.30), (3.82, -1.36), (3.84, -1.40), (3.94, -1.46),
    (3.96, -1.52), (3.98, -1.46), (3.99, -1.50), (4.00, -1.44), (3.90, -1.40), (3.88, -1.34),
    (0.30, -0.40), (0.42, -0.48), (0.46, -0.55), (0.58, -0.66), (0.66, -0.70), (0.72, -0.76),
    (0.80, -0.80), (0.90, -0.88), (1.00, -0.90), (1.15, -0.98), (1.30, -1.00), (1.38, -1.05),
]

series_names = ["True Model", "Our Model", "MNL", "RCL", "NP"]
x_ticks = [0.0, 0.5, 1.0, 1.5, 2.0, 2.5, 3.0, 3.5, 4.0]
y_ticks = [0.0, -0.5, -1.0, -1.5, -2.0, -2.5, -3.0, -3.5, -4.0]
y_tick_text = ["0.0", "\u22120.5", "\u22121.0", "\u22121.5", "\u22122.0", "\u22122.5", "\u22123.0", "\u22123.5", "\u22124.0"]

# ---------------- styling ----------------
FONT = "DejaVu Sans"
FS = 23
styles = {
    "True Model": dict(color="blue", symbol="triangle-up", size=12, rank=1),
    "Our Model": dict(color="orange", symbol="circle", size=11, rank=2),
    "MNL": dict(color="green", symbol="square", size=10, rank=3),
    "RCL": dict(color="grey", symbol="pentagon", size=11, rank=4),
    "NP": dict(color="red", symbol="x", size=10, rank=5),
}
data_map = {"True Model": true_pts, "Our Model": ours_pts, "MNL": mnl_pts, "RCL": rcl_pts, "NP": np_pts}
draw_order = ["MNL", "RCL", "NP", "True Model", "Our Model"]

fig = go.Figure()
for name in draw_order:
    pts = data_map[name]
    st = styles[name]
    fig.add_trace(go.Scatter(
        x=[p[0] for p in pts], y=[p[1] for p in pts], mode="markers", name=name,
        legendrank=st["rank"], legendgroup=name,
        marker=dict(color=st["color"], symbol=st["symbol"], size=st["size"], line=dict(width=0)),
    ))

W, H = 880, 620
L, T, B = 116, 42, 75
px_per_x = 184.6
x0 = (L - 120) / px_per_x
x1 = (W - 120) / px_per_x

fig.update_layout(
    width=W, height=H,
    margin=dict(l=L, r=0, t=T, b=B),
    paper_bgcolor="white", plot_bgcolor="white",
    font=dict(family=FONT, size=FS, color="black"),
    showlegend=True,
    legend=dict(
        x=0.013, y=0.022, xanchor="left", yanchor="bottom",
        bgcolor="rgba(255,255,255,0.8)", bordercolor="#cccccc", borderwidth=1,
        font=dict(family=FONT, size=FS, color="black"),
        traceorder="grouped", tracegroupgap=1, itemwidth=60,
    ),
    xaxis=dict(
        range=[x0, x1], tickvals=x_ticks, tickformat=".1f",
        showgrid=False, zeroline=False, showline=True, linecolor="black", linewidth=1.2,
        mirror=True, ticks="outside", ticklen=5, tickwidth=1.2, tickcolor="black",
        tickfont=dict(family=FONT, size=FS, color="black"),
    ),
    yaxis=dict(
        range=[-4.0, 0.0], tickvals=y_ticks, ticktext=y_tick_text,
        showgrid=False, zeroline=False, showline=True, linecolor="black", linewidth=1.2,
        ticks="outside", ticklen=5, tickwidth=1.2, tickcolor="black",
        tickfont=dict(family=FONT, size=FS, color="black"),
    ),
    annotations=[
        dict(text="Self-Elasticity Comparison (J = 2, K = 1, M = 1000)", xref="paper", yref="paper",
             x=(502 - L) / (W - L), y=1 + (T - 18) / (H - T - B), xanchor="center", yanchor="middle",
             showarrow=False, font=dict(family=FONT, size=27.5, color="black")),
        dict(text="Price of the product ignored", xref="paper", yref="paper",
             x=(501 - L) / (W - L), y=-(603 - (H - B)) / (H - T - B), xanchor="center", yanchor="middle",
             showarrow=False, font=dict(family=FONT, size=FS, color="black")),
        dict(text="Elasticity", xref="paper", yref="paper", textangle=-90,
             x=-(L - 22) / (W - L), y=0.5, xanchor="center", yanchor="middle",
             showarrow=False, font=dict(family=FONT, size=FS, color="black")),
    ],
)

fig.write_html("out.html")
